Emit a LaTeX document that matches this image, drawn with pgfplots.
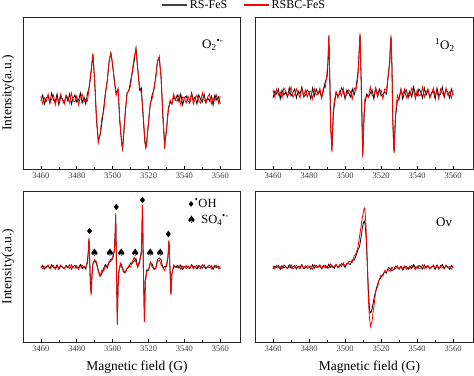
\documentclass[border=0pt]{standalone}
\usepackage{pgfplots}
\pgfplotsset{compat=1.18}
\usepackage{fontspec}
\setmainfont{Liberation Serif}
\newfontfamily\dejavu{DejaVu Sans}
\pgfplotsset{
 panel/.style={
  scale only axis, anchor=south west,
  xmin=3450, xmax=3571,
  xtick={3460,3480,3500,3520,3540,3560},
  minor xtick={3470,3490,3510,3530,3550},
  ytick=\empty,
  xtick pos=bottom,
  tick align=inside,
  major tick length=3pt, minor tick length=2pt,
  every tick/.style={black, line width=0.7pt},
  axis line style={line width=0.9pt, black!85},
  /pgf/number format/assume math mode=true,
  /pgf/number format/set thousands separator={},
  xticklabel style={font=\fontsize{8.5}{10}\selectfont, text=black!75},
  label style={font=\fontsize{13.5}{16}\selectfont},
  every axis plot/.append style={line width=0.8pt},
  ylabel style={at={(axis description cs:-0.069,0.5)}, anchor=center},
  xlabel style={at={(axis description cs:0.525,0)}, anchor=center, yshift=-25pt},
 },
}
\begin{document}
\begin{tikzpicture}
\useasboundingbox (0pt,0pt) rectangle (474pt,375pt);
% ---------------- top left: O2.- ----------------
\begin{axis}[panel, at={(23pt,206pt)}, width=217pt, height=152pt,
  ymin=-70, ymax=82, ylabel={Intensity(a.u.)},
  legend columns=2,
  legend style={at={(axis description cs:1.02,1.079)}, anchor=center, draw=none, fill=none,
    font=\fontsize{12}{14}\selectfont, /tikz/every even column/.append style={column sep=14pt}}]
\addlegendimage{legend image code/.code={\draw[black!75, line width=1.4pt] (0pt,0pt) -- (25pt,0pt);}}
\addlegendentry{RS-FeS}
\addlegendimage{legend image code/.code={\draw[red, line width=1.4pt] (0pt,0pt) -- (25pt,0pt);}}
\addlegendentry{RSBC-FeS}
\addplot[black, forget plot] coordinates {(3460,-2) (3461,4) (3462,-5) (3463,1) (3464,3) (3465,-4) (3466,6) (3467,-1) (3468,-3) (3469,5) (3470,-6) (3471,2) (3472,0) (3473,-4) (3474,3) (3475,-2) (3476,5) (3477,-5) (3478,1) (3479,4) (3480,-3) (3481,-1) (3482,6) (3483,-4) (3484,2) (3485,-5) (3486,6) (3487,12) (3488,27) (3489,44) (3490,17) (3491,-22) (3492,-42) (3493,-36) (3494,-24) (3495,-9) (3496,7) (3497,18) (3498,37) (3499,46) (3500,33) (3501,18) (3502,5) (3503,10) (3504,-23) (3505,-43) (3505.5,-50) (3506,-40) (3507,-14) (3508,6) (3509,8) (3510,18) (3511,27) (3512,38) (3513,51) (3514,30) (3515,9) (3516,11) (3517,-18) (3518,-44) (3518.5,-48) (3519,-42) (3520,-23) (3521,-5) (3522,4) (3523,9) (3524,22) (3525,38) (3526,40) (3527,22) (3528,-19) (3529,-45) (3530,-32) (3531,-10) (3532,-3) (3533,-5) (3534,2) (3535,-1) (3536,4) (3537,-3) (3538,5) (3539,-6) (3540,1) (3541,3) (3542,-2) (3543,-4) (3544,6) (3545,-1) (3546,2) (3547,-5) (3548,4) (3549,0) (3550,-3) (3551,5) (3552,-4) (3553,1) (3554,-2) (3555,3) (3556,-6) (3557,4) (3558,-1) (3559,2) (3560,-5)};
\addplot[red, forget plot] coordinates {(3460,3) (3461,-5) (3462,1) (3463,-2) (3464,5) (3465,-4) (3466,0) (3467,4) (3468,-6) (3469,2) (3470,-3) (3471,5) (3472,-1) (3473,-5) (3474,4) (3475,1) (3476,-4) (3477,6) (3478,-2) (3479,-3) (3480,3) (3481,-6) (3482,2) (3483,5) (3484,-3) (3485,0) (3486,-2) (3487,14) (3488,29) (3489,46) (3490,16) (3491,-19) (3492,-44) (3493,-35) (3494,-19) (3495,-12) (3496,5) (3497,19) (3498,38) (3499,46) (3500,35) (3501,16) (3502,4) (3503,10) (3504,-21) (3505,-45) (3505.5,-49) (3506,-37) (3507,-14) (3508,5) (3509,9) (3510,13) (3511,29) (3512,42) (3513,50) (3514,29) (3515,12) (3516,6) (3517,-15) (3518,-42) (3518.5,-49) (3519,-45) (3520,-22) (3521,-4) (3522,0) (3523,11) (3524,21) (3525,38) (3526,43) (3527,21) (3528,-15) (3529,-50) (3530,-29) (3531,-13) (3532,-1) (3533,-5) (3534,5) (3535,-1) (3536,-2) (3537,4) (3538,-6) (3539,2) (3540,1) (3541,-4) (3542,3) (3543,-3) (3544,5) (3545,-5) (3546,0) (3547,4) (3548,-2) (3549,-4) (3550,6) (3551,-1) (3552,-3) (3553,2) (3554,5) (3555,-5) (3556,1) (3557,-2) (3558,4) (3559,-4) (3560,3)};
\node[font=\fontsize{13}{15}\selectfont] at (axis cs:3555.8,54) {O\textsubscript{2}\textsuperscript{•-}};
\end{axis}
% ---------------- top right: 1O2 ----------------
\begin{axis}[panel, at={(255pt,206pt)}, width=218pt, height=152pt, ymin=-76, ymax=76]
\addplot[black] coordinates {(3460,-5) (3461,2) (3462,-1) (3463,4) (3464,-6) (3465,3) (3466,-2) (3467,1) (3468,-4) (3469,5) (3470,-3) (3471,0) (3472,4) (3473,-5) (3474,2) (3475,-1) (3476,6) (3477,-4) (3478,-2) (3479,3) (3480,1) (3481,-6) (3482,5) (3483,-3) (3484,4) (3485,-1) (3486,2) (3487,-5) (3488,3) (3489,11) (3490,16) (3490.5,30) (3491,56) (3491.5,18) (3492,-30) (3492.7,-57) (3493,-42) (3493.5,-20) (3494,-13) (3495,1) (3496,-3) (3497,-1) (3498,5) (3499,2) (3500,-6) (3501,3) (3502,0) (3503,-4) (3504,4) (3505,-2) (3506,5) (3507,18) (3507.5,30) (3508,48) (3508.3,58) (3509,8) (3509.8,-62) (3510,-52) (3510.5,-25) (3511,-10) (3512,-1) (3513,-4) (3514,0) (3515,3) (3516,-6) (3517,5) (3518,-2) (3519,4) (3520,-3) (3521,-1) (3522,1) (3523,-1) (3524,19) (3524.8,32) (3525,42) (3525.5,56) (3526,28) (3526.5,-26) (3527,-54) (3527.2,-58) (3528,-24) (3529,-8) (3530,-5) (3531,4) (3532,-6) (3533,1) (3534,3) (3535,-5) (3536,2) (3537,-4) (3538,6) (3539,-1) (3540,-3) (3541,4) (3542,1) (3543,-5) (3544,5) (3545,-2) (3546,3) (3547,-4) (3548,0) (3549,2) (3550,-6) (3551,5) (3552,-3) (3553,-1) (3554,6) (3555,-4) (3556,3) (3557,1) (3558,-5) (3559,4) (3560,-2)};
\addplot[red] coordinates {(3460,3) (3461,-4) (3462,4) (3463,-2) (3464,1) (3465,-5) (3466,5) (3467,2) (3468,-3) (3469,-1) (3470,6) (3471,-4) (3472,-2) (3473,4) (3474,0) (3475,-5) (3476,5) (3477,-3) (3478,3) (3479,-4) (3480,1) (3481,2) (3482,-6) (3483,4) (3484,-2) (3485,-1) (3486,5) (3487,-5) (3488,6) (3489,5) (3490,21) (3490.5,32) (3491,58) (3491.5,15) (3492,-35) (3492.7,-59) (3493,-40) (3493.5,-18) (3494,-8) (3495,1) (3496,-5) (3497,2) (3498,-3) (3499,5) (3500,-4) (3501,-2) (3502,3) (3503,1) (3504,-6) (3505,5) (3506,3) (3507,13) (3507.5,28) (3508,50) (3508.3,60) (3509,5) (3509.8,-65) (3510,-55) (3510.5,-22) (3511,-6) (3512,-3) (3513,-4) (3514,6) (3515,-3) (3516,-2) (3517,5) (3518,-4) (3519,1) (3520,3) (3521,-6) (3522,4) (3523,3) (3524,18) (3524.8,30) (3525,40) (3525.5,58) (3526,25) (3526.5,-30) (3527,-56) (3527.2,-60) (3528,-22) (3529,-2) (3530,-7) (3531,3) (3532,-2) (3533,4) (3534,-5) (3535,0) (3536,-3) (3537,5) (3538,2) (3539,-6) (3540,3) (3541,-3) (3542,-2) (3543,6) (3544,-4) (3545,1) (3546,4) (3547,-5) (3548,-1) (3549,5) (3550,-3) (3551,2) (3552,-6) (3553,4) (3554,0) (3555,-4) (3556,5) (3557,-2) (3558,1) (3559,-5) (3560,3)};
\node[font=\fontsize{13}{15}\selectfont] at (axis cs:3555.4,48) {\textsuperscript{1}O\textsubscript{2}};
\end{axis}
% ---------------- bottom left: OH / SO4 ----------------
\begin{axis}[panel, at={(23pt,33pt)}, width=217pt, height=151pt,
  ymin=-75, ymax=76, ylabel={Intensity(a.u.)}, xlabel={Magnetic field (G)}]
\addplot[black] coordinates {(3460,-0.8) (3461,1.6) (3462,-2) (3463,0.4) (3464,1.2) (3465,-1.6) (3466,2.4) (3467,-0.4) (3468,-1.2) (3469,2) (3470,-2.4) (3471,0.8) (3472,0) (3473,-1.6) (3474,1.2) (3475,-0.8) (3476,2) (3477,-2) (3478,0.4) (3479,1.6) (3480,-1.2) (3481,-0.4) (3482,2.4) (3483,-1.6) (3484,0.8) (3485,-2) (3486,7.2) (3486.5,17) (3486.8,28) (3487.2,6) (3487.6,-18) (3488,-26) (3488.5,-7) (3489,3.6) (3490,7.2) (3491,3) (3492,-3) (3493,-9.2) (3494,-6.6) (3495,-1.2) (3496,2.4) (3497,-1) (3498,4.4) (3499,7.6) (3500,7.8) (3501,17.6) (3501.4,34) (3501.7,52) (3502.1,2) (3502.6,-56) (3503,-19) (3503.5,-4) (3504,-0.4) (3504.5,3) (3505,2.2) (3506,-5) (3507,-5.6) (3508,-1.2) (3509,-0.4) (3510,4) (3511,3.8) (3512,6) (3513,8.4) (3514,0.4) (3515,4.2) (3516,16.6) (3516.3,34) (3516.6,60) (3517.1,2) (3517.7,-52) (3518.2,-14) (3519,-2.8) (3520,-3.4) (3521,3.8) (3522,3) (3523,-2.4) (3524,-1.2) (3525,7.6) (3526,9) (3527,7.4) (3528,-0.8) (3529,0.4) (3530,0.4) (3530.8,9) (3531.4,26) (3531.9,1) (3532.5,-27) (3533,-7) (3534,0.8) (3535,-0.4) (3536,1.6) (3537,-1.2) (3538,2) (3539,-2.4) (3540,0.4) (3541,1.2) (3542,-0.8) (3543,-1.6) (3544,2.4) (3545,-0.4) (3546,0.8) (3547,-2) (3548,1.6) (3549,0) (3550,-1.2) (3551,2) (3552,-1.6) (3553,0.4) (3554,-0.8) (3555,1.2) (3556,-2.4) (3557,1.6) (3558,-0.4) (3559,0.8) (3560,-2)};
\addplot[red] coordinates {(3460,1.2) (3461,-2) (3462,0.4) (3463,-0.8) (3464,2) (3465,-1.6) (3466,0) (3467,1.6) (3468,-2.4) (3469,0.8) (3470,-1.2) (3471,2) (3472,-0.4) (3473,-2) (3474,1.6) (3475,0.4) (3476,-1.6) (3477,2.4) (3478,-0.8) (3479,-1.2) (3480,1.2) (3481,-2.4) (3482,0.8) (3483,2) (3484,-1.2) (3485,0) (3486,4) (3486.5,18) (3486.8,29) (3487.2,5) (3487.6,-20) (3488,-28) (3488.5,-8) (3489,3.2) (3490,6.4) (3491,5.4) (3492,-5.4) (3493,-9.2) (3494,-3) (3495,-4) (3496,0.8) (3497,0.6) (3498,5.6) (3499,5.6) (3500,10.2) (3501,16.4) (3501.4,35) (3501.7,54) (3502.1,0) (3502.6,-58) (3503,-20) (3503.5,-5) (3504,1.2) (3504.5,4) (3505,-0.2) (3506,-2.6) (3507,-5.6) (3508,-2) (3509,1.2) (3510,0) (3511,5.8) (3512,9.6) (3513,4.8) (3514,-0.4) (3515,7) (3516,12.6) (3516.3,35) (3516.6,62) (3517.1,0) (3517.7,-55) (3518.2,-15) (3519,-4.8) (3520,-2.6) (3521,5) (3522,-0.2) (3523,-1.2) (3524,-2) (3525,5.6) (3526,7) (3527,2.2) (3528,-0.6) (3529,-3.6) (3530,2.4) (3530.8,10) (3531.4,27) (3531.9,0) (3532.5,-28) (3533,-8) (3534,2) (3535,-0.4) (3536,-0.8) (3537,1.6) (3538,-2.4) (3539,0.8) (3540,0.4) (3541,-1.6) (3542,1.2) (3543,-1.2) (3544,2) (3545,-2) (3546,0) (3547,1.6) (3548,-0.8) (3549,-1.6) (3550,2.4) (3551,-0.4) (3552,-1.2) (3553,0.8) (3554,2) (3555,-2) (3556,0.4) (3557,-0.8) (3558,1.6) (3559,-1.6) (3560,1.2)};
\addplot[only marks, mark=diamond*, mark size=2.6pt, black] coordinates {(3487.1,36) (3502,60) (3516.6,67) (3531,33)};
\addplot[only marks, mark=text, text mark={\dejavu\fontsize{10.5}{12}\selectfont ♠}, black] coordinates {(3489.9,14) (3498.6,14) (3504.8,14) (3512.6,14) (3521.0,14) (3526.6,14)};
\node[font=\fontsize{12.5}{14}\selectfont, anchor=west, inner sep=0pt] at (axis cs:3541.5,64) {{\dejavu\fontsize{8.5}{9}\selectfont ♦}\textsuperscript{•}OH};
\node[font=\fontsize{12.5}{14}\selectfont, anchor=west, inner sep=0pt] at (axis cs:3541.2,47) {{\dejavu\fontsize{10.5}{10}\selectfont ♠}\, SO\textsubscript{4}\textsuperscript{•-}};
\end{axis}
% ---------------- bottom right: Ov ----------------
\begin{axis}[panel, at={(255pt,33pt)}, width=218pt, height=151pt,
  ymin=-75, ymax=76, xlabel={Magnetic field (G)}]
\addplot[black] coordinates {(3460,-2) (3461,0.8) (3462,-0.4) (3463,1.6) (3464,-2.4) (3465,1.2) (3466,-0.8) (3467,0.4) (3468,-1.6) (3469,2) (3470,-1.2) (3471,0) (3472,1.6) (3473,-2) (3474,0.8) (3475,-0.4) (3476,2.4) (3477,-1.6) (3478,-0.8) (3479,1.2) (3480,0.6) (3481,-2.2) (3482,2.2) (3483,-1) (3484,1.8) (3485,-0.2) (3486,1.1) (3487,-1.7) (3488,0.3) (3489,1.55) (3490,-1.2) (3491,2.85) (3492,-0.3) (3493,1) (3494,-1.35) (3495,2.4) (3496,-0.3) (3497,0.7) (3498,3.3) (3499,2.4) (3500,-0.4) (3501,3.7) (3502,3.2) (3503,2.6) (3504,7.2) (3505,6.8) (3506,11.2) (3507,16.5) (3508,20.4) (3509,31.1) (3509.5,38) (3510,43.1) (3510.6,46) (3511,44) (3511.5,35) (3512,18) (3512.4,0) (3513,-27) (3513.5,-40) (3513.9,-46) (3514.5,-45) (3515,-41.5) (3515.5,-37) (3516,-32) (3517,-24) (3518,-17.5) (3519,-12.5) (3520,-10.2) (3521,-7.4) (3522,-4.6) (3523,-6) (3524,-0.4) (3525,-1.6) (3526,-3.5) (3527,-2.7) (3528,0.8) (3529,-1) (3530,-1.7) (3531,0.8) (3532,-3) (3533,-0.1) (3534,0.7) (3535,-2.4) (3536,0.8) (3537,-1.6) (3538,2.4) (3539,-0.4) (3540,-1.2) (3541,1.6) (3542,0.4) (3543,-2) (3544,2) (3545,-0.8) (3546,1.2) (3547,-1.6) (3548,0) (3549,0.8) (3550,-2.4) (3551,2) (3552,-1.2) (3553,-0.4) (3554,2.4) (3555,-1.6) (3556,1.2) (3557,0.4) (3558,-2) (3559,1.6) (3560,-0.8)};
\addplot[red] coordinates {(3460,1.2) (3461,-1.6) (3462,1.6) (3463,-0.8) (3464,0.4) (3465,-2) (3466,2) (3467,0.8) (3468,-1.2) (3469,-0.4) (3470,2.4) (3471,-1.6) (3472,-0.8) (3473,1.6) (3474,0) (3475,-2) (3476,2) (3477,-1.2) (3478,1.2) (3479,-1.6) (3480,0.6) (3481,1) (3482,-2.2) (3483,1.9) (3484,-0.5) (3485,-0.1) (3486,2.4) (3487,-1.6) (3488,1.6) (3489,-0.8) (3490,0.9) (3491,-1.1) (3492,3.1) (3493,-0.1) (3494,0.9) (3495,2.6) (3496,-0.8) (3497,2.2) (3498,0.5) (3499,4.1) (3500,1) (3501,2.4) (3502,5.3) (3503,5.8) (3504,4.8) (3505,11) (3506,13.4) (3507,18.5) (3508,30.3) (3509,42.2) (3509.5,48.7) (3510,53.3) (3510.6,59.1) (3511,57.8) (3511.5,44.7) (3512,22.6) (3512.4,0) (3513,-34.2) (3513.5,-50.8) (3514.2,-59.5) (3515,-54) (3515.5,-45.8) (3516,-39.4) (3517,-24.6) (3518,-19.9) (3519,-12.4) (3520,-8) (3521,-9.2) (3522,-3.5) (3523,-4.4) (3524,-2.3) (3525,-4.5) (3526,0) (3527,-2.8) (3528,-1.75) (3529,1.3) (3530,-2.55) (3531,0.35) (3532,-1.5) (3533,1) (3534,-2.5) (3535,-0.46) (3536,-1.6) (3537,1.6) (3538,0.45) (3539,-2.7) (3540,0.9) (3541,-1.5) (3542,-1.05) (3543,2.2) (3544,-1.8) (3545,0.2) (3546,1.6) (3547,-2) (3548,-0.4) (3549,2) (3550,-1.2) (3551,0.8) (3552,-2.4) (3553,1.6) (3554,0) (3555,-1.6) (3556,2) (3557,-0.8) (3558,0.4) (3559,-2) (3560,1.2)};
\node[font=\fontsize{13}{15}\selectfont] at (axis cs:3555,45) {Ov};
\end{axis}
\end{tikzpicture}
\end{document}
